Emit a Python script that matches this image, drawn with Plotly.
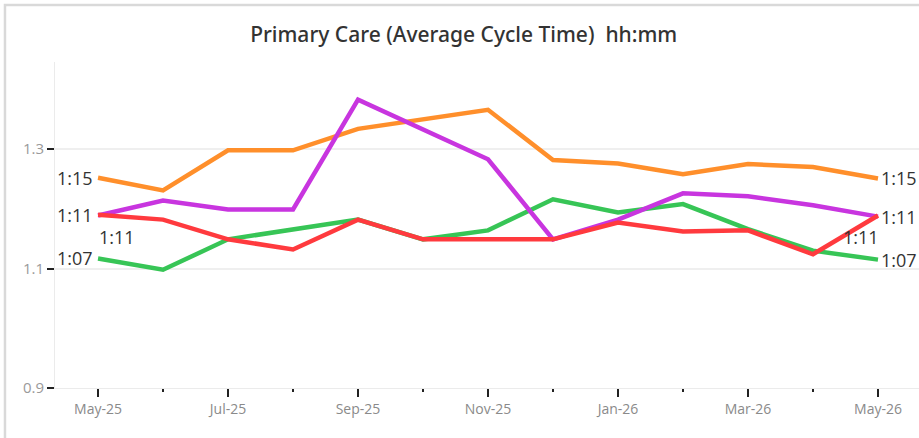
import plotly.graph_objects as go

months = ["May-25", "Jun-25", "Jul-25", "Aug-25", "Sep-25", "Oct-25", "Nov-25",
          "Dec-25", "Jan-26", "Feb-26", "Mar-26", "Apr-26", "May-26"]
tick_labels = ["May-25", "Jul-25", "Sep-25", "Nov-25", "Jan-26", "Mar-26", "May-26"]

orange = [1.252, 1.231, 1.298, 1.298, 1.334, 1.350, 1.366, 1.282, 1.276, 1.258, 1.275, 1.270, 1.251]
purple = [1.189, 1.214, 1.199, 1.199, 1.383, 1.333, 1.283, 1.149, 1.182, 1.226, 1.221, 1.206, 1.187]
green = [1.117, 1.098, 1.149, 1.166, 1.182, 1.149, 1.164, 1.216, 1.194, 1.208, 1.166, 1.130, 1.115]
red = [1.190, 1.182, 1.149, 1.132, 1.182, 1.149, 1.149, 1.149, 1.177, 1.162, 1.164, 1.124, 1.189]

series = [
    ("orange", orange, "#FF8F2B"),
    ("green", green, "#37C556"),
    ("purple", purple, "#C835DF"),
    ("red", red, "#FF3A3E"),
]

x = list(range(len(months)))


def hhmm(v):
    total = round(v * 60)
    return f"{total // 60}:{total % 60:02d}"


fig = go.Figure()
for name, vals, col in series:
    fig.add_trace(go.Scatter(x=x, y=vals, mode="lines", name=name,
                             line=dict(color=col, width=4.5),
                             customdata=months, hovertemplate="%{customdata}: %{y}<extra></extra>"))

lab_font = dict(family="Open Sans, sans-serif", size=18, color="#333333")
annotations = []
last = len(months) - 1
for name, vals, col in series:
    if name == "red":
        annotations.append(dict(x=0, y=vals[0], text=hhmm(vals[0]), xanchor="left", yanchor="middle",
                                xshift=-1, yshift=-22, showarrow=False, font=lab_font))
        annotations.append(dict(x=last, y=vals[last], text=hhmm(vals[last]), xanchor="right", yanchor="middle",
                                xshift=3, yshift=-22, showarrow=False, font=lab_font))
    else:
        annotations.append(dict(x=0, y=vals[0], text=hhmm(vals[0]), xanchor="right", yanchor="middle",
                                xshift=-3, showarrow=False, font=lab_font))
        annotations.append(dict(x=last, y=vals[last], text=hhmm(vals[last]), xanchor="left", yanchor="middle",
                                xshift=1, showarrow=False, font=lab_font))

fig.update_layout(
    width=919, height=438,
    margin=dict(l=55, r=0, t=62, b=50),
    paper_bgcolor="white", plot_bgcolor="white",
    showlegend=False,
    title=dict(text="Primary Care (Average Cycle Time)  hh:mm", x=0.473, xanchor="center",
               y=0.922, yanchor="middle", xref="paper",
               font=dict(family="Noto Sans, sans-serif", size=21, color="#333333", weight=500)),
    annotations=annotations,
    shapes=[dict(type="rect", xref="paper", yref="paper", x0=-0.0579, x1=1.02, y0=-0.3, y1=1.1748,
                 line=dict(color="#D9D9D9", width=2.5), fillcolor="rgba(0,0,0,0)", layer="below")],
)

fig.update_xaxes(
    range=[-0.662, 12.631],
    tickmode="array", tickvals=[0, 2, 4, 6, 8, 10, 12], ticktext=tick_labels,
    ticks="outside", ticklen=8, tickcolor="#222222", tickwidth=1.5,
    showgrid=False, zeroline=False,
    showline=True, linecolor="#EBEBEB", linewidth=1,
    tickfont=dict(family="Open Sans, sans-serif", size=14, color="#8A8A8A"),
    minor=dict(tickmode="linear", tick0=0, dtick=1, ticks="outside", ticklen=3,
               tickcolor="#222222", tickwidth=1.5, showgrid=False),
)
fig.update_yaxes(
    range=[0.9, 1.446],
    tickmode="array", tickvals=[0.9, 1.1, 1.3], ticktext=["0.9", "1.1", "1.3"],
    ticks="outside", ticklen=7, tickcolor="#222222", tickwidth=1.5,
    showgrid=True, gridcolor="#EFEFEF", gridwidth=1.5,
    zeroline=False, showline=True, linecolor="#EBEBEB", linewidth=1,
    tickfont=dict(family="Open Sans, sans-serif", size=15, color="#9A9A9A"),
)

fig.write_html("out.html", config={"displayModeBar": False},
               post_script="document.body.style.margin='0';document.body.style.overflow='hidden';")
